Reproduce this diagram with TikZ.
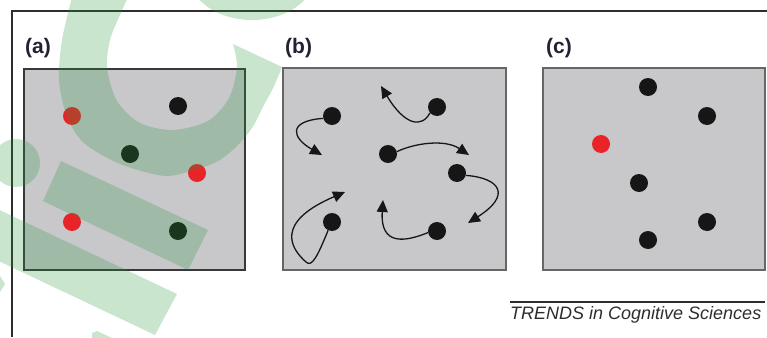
\documentclass[tikz,border=0pt]{standalone}
\usepackage{fontspec}
\setmainfont{Liberation Sans}
\usetikzlibrary{arrows.meta}
\definecolor{panelgray}{RGB}{200,200,203}
\definecolor{dotred}{RGB}{232,36,40}
\definecolor{dotblack}{RGB}{22,22,22}
\definecolor{marklabel}{RGB}{34,34,52}
\definecolor{framegray}{RGB}{45,45,45}
\definecolor{wmgreen}{RGB}{40,150,60}
\tikzset{
  panelbox/.style={draw=#1, line width=1.6pt, fill=panelgray},
  blackdot/.style={circle, fill=dotblack, minimum size=18pt, inner sep=0pt},
  reddot/.style={circle, fill=dotred, minimum size=18pt, inner sep=0pt},
  panellabel/.style={anchor=west, inner sep=0pt, text=marklabel,
    font=\fontsize{21}{21}\selectfont\bfseries},
  walk/.style={draw=dotblack, line width=1.3pt,
    -{Triangle[length=12pt,width=11pt]}},
  wm/.style={fill=wmgreen, fill opacity=0.25},
}
\begin{document}
\begin{tikzpicture}[x=1pt,y=-1pt]
\useasboundingbox (0,0) rectangle (767,337);
\begin{scope}
\clip (0,0) rectangle (767,337);

% outer frame
\draw[framegray, line width=1.6pt] (12,337) -- (12,11) -- (767,11);

% panel labels
\node[panellabel] (la) at (25,48) {(a)};
\node[panellabel] (lb) at (285,48) {(b)};
\node[panellabel] (lc) at (546,48) {(c)};

% panels
\path[panelbox={black!78}] (24,69) rectangle (245,270);
\path[panelbox={black!60}] (283,68) rectangle (506,270);
\path[panelbox={black!60}] (543,68) rectangle (765,270);

% (a) items
\node[reddot]   (a1) at (72,116) {};
\node[blackdot] (a2) at (178,106) {};
\node[blackdot] (a3) at (130,154) {};
\node[reddot]   (a4) at (197,173) {};
\node[reddot]   (a5) at (72,222) {};
\node[blackdot] (a6) at (178,231) {};

% (b) items and their movements
\node[blackdot] (b1) at (332,116) {};
\node[blackdot] (b2) at (437,107) {};
\node[blackdot] (b3) at (388,154) {};
\node[blackdot] (b4) at (457,173) {};
\node[blackdot] (b5) at (332,222) {};
\node[blackdot] (b6) at (437,231) {};
\coordinate (t1) at (322,155);
\coordinate (t2) at (381,86);
\coordinate (t3) at (469,155);
\coordinate (t4) at (468,223);
\coordinate (t5) at (345,192);
\coordinate (t6) at (383,200);
\draw[walk] (b1.195) .. controls (287,121) and (292,138) .. (t1);
\draw[walk] (b2.220) .. controls (422,128) and (405,126) .. (t2);
\draw[walk] (b3.15) .. controls (415,143) and (445,139) .. (t3);
\draw[walk] (b4.-15) .. controls (500,178) and (512,195) .. (t4);
\draw[walk] (b5.245) .. controls (318,255) and (312,268) .. (306,262)
  .. controls (290,248) and (275,222) .. (t5);
\draw[walk] (b6.190) .. controls (405,242) and (380,246) .. (t6);

% (c) items
\node[blackdot] (c1) at (648,87) {};
\node[blackdot] (c2) at (707,116) {};
\node[reddot]   (c3) at (601,144) {};
\node[blackdot] (c4) at (639,183) {};
\node[blackdot] (c5) at (707,222) {};
\node[blackdot] (c6) at (648,240) {};

% source line
\draw[framegray, line width=1.2pt] (510,302) -- (765,302);
\node[anchor=base west, inner sep=0pt, text=framegray,
  font=\fontsize{18}{18}\selectfont\itshape] (src) at (510,319)
  {TRENDS in Cognitive Sciences};

% translucent green logo shapes
\fill[wm] plot[smooth] coordinates {(72,-3) (62,40) (59,80) (67,117) (84,143)
    (120,164) (165,176) (197,169) (218,161) (236,147) (252,128) (264,105)
    (274,86) (282,67)}
  -- plot[smooth] coordinates {(233,44) (237,67) (229,98) (208,121) (173,130)
    (140,123) (117,101) (107,68) (110,40) (119,17) (128,-3)} -- cycle;
\fill[wm] (252,-25) ellipse [x radius=63pt, y radius=45pt];
\fill[wm] (16,163) circle [radius=24pt];
\fill[wm] (61,161) -- (208,230) -- (188,270) -- (43,201) -- cycle;
\fill[wm] (-49,187) -- (177,294) -- (155,335) -- (-71,228) -- cycle;
\fill[wm] (0,276) -- (5,284) -- (0,292) -- cycle;
\fill[wm] (92,333) -- (97,331) -- (112,338) -- (92,338) -- cycle;
\end{scope}
\end{tikzpicture}
\end{document}
